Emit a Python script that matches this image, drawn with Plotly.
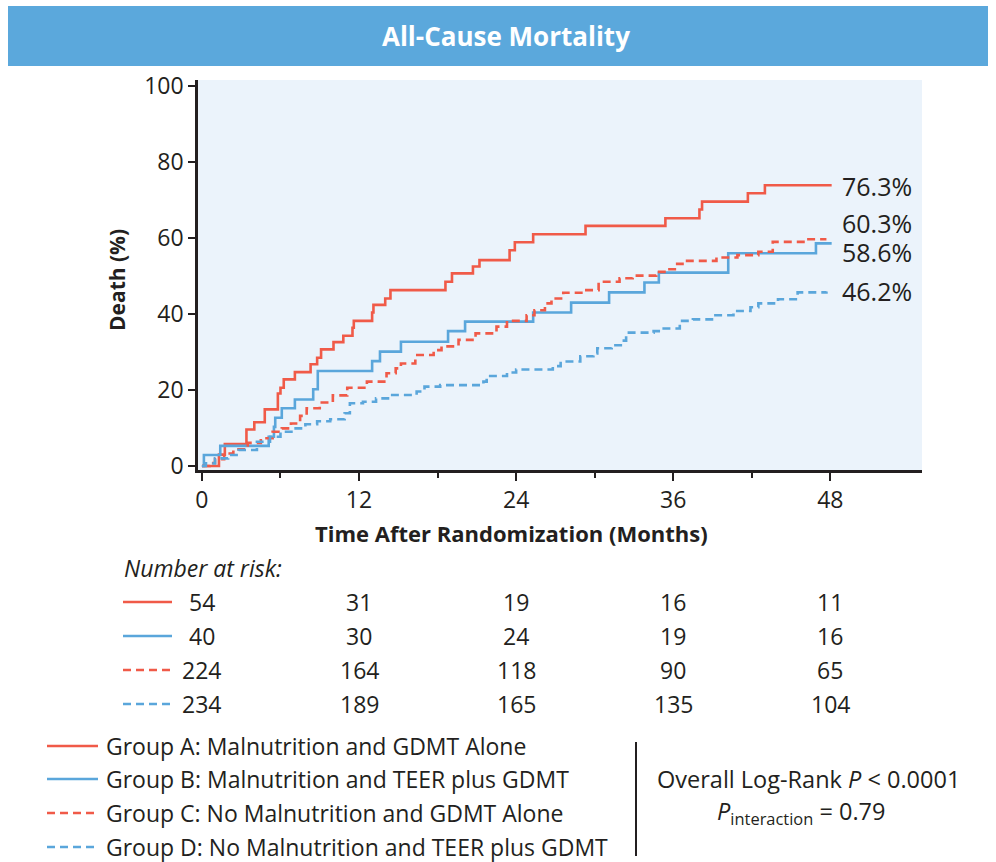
import plotly.graph_objects as go

# ---------------- data ----------------
months_ticks = [0, 12, 24, 36, 48]

groupA_t = [0, 1.3, 1.75, 3.4, 4.0, 4.8, 5.8, 6.0, 6.25, 7.1, 8.3, 8.8, 9.1, 10.05, 10.8, 11.5, 11.6,
            13.0, 13.1, 14.0, 14.4, 18.6, 19.1, 20.7, 21.2, 23.5, 23.9, 25.3, 29.3, 35.4, 38.0, 38.2,
            41.7, 43.0, 48.1]
groupA_v = [0, 3.0, 5.8, 9.6, 11.5, 14.9, 19.1, 20.6, 22.8, 24.7, 26.8, 28.5, 30.7, 32.6, 34.3, 36.4, 38.2,
            40.4, 42.4, 44.1, 46.3, 48.5, 50.7, 52.5, 54.2, 56.8, 58.9, 61.0, 63.2, 65.2, 67.5, 69.6,
            71.8, 73.9, 73.9]

groupB_t = [0, 0.15, 1.4, 5.1, 5.5, 5.6, 6.1, 7.1, 8.5, 8.85, 13.0, 13.6, 15.2, 18.8, 20.1, 25.3, 28.2,
            31.1, 33.8, 34.9, 40.2, 46.9, 48.1]
groupB_v = [0, 2.9, 5.3, 7.7, 10.3, 12.7, 15.2, 17.5, 20.2, 25.0, 27.6, 30.1, 32.7, 35.5, 38.0, 40.4, 43.0,
            45.7, 48.3, 50.9, 56.0, 58.6, 58.6]

groupC_t = [0, 0.6, 1.0, 1.7, 2.4, 3.5, 4.5, 5.4, 6.1, 6.8, 7.5, 8.0, 9.0, 10.0, 11.1, 12.6, 14.1, 14.8,
            15.2, 16.3, 17.7, 18.3, 19.6, 20.9, 22.5, 23.3, 24.8, 25.4, 26.2, 26.7, 27.6, 29.1, 30.3,
            31.9, 32.9, 34.7, 35.5, 36.3, 36.9, 39.3, 40.9, 42.5, 43.6, 46.2, 47.7]
groupC_v = [0, 0.8, 1.8, 3.3, 4.4, 6.1, 7.3, 9.0, 9.9, 11.2, 13.2, 15.2, 16.7, 18.6, 20.6, 22.2, 24.4, 25.7,
            27.0, 29.2, 30.5, 31.5, 33.2, 34.9, 36.7, 38.2, 39.7, 41.0, 42.8, 44.1, 45.6, 46.3, 48.5,
            49.4, 50.1, 51.1, 51.8, 53.2, 54.0, 54.9, 55.5, 56.4, 59.0, 59.7, 59.7]

groupD_t = [0, 0.3, 1.0, 2.0, 2.8, 4.2, 5.2, 6.0, 7.0, 7.9, 8.8, 9.8, 10.9, 11.3, 12.3, 13.3, 14.4, 16.4,
            17.0, 18.2, 21.5, 21.75, 23.3, 24.0, 26.8, 27.4, 28.9, 29.9, 30.2, 31.3, 32.1, 32.4, 34.5,
            35.0, 36.5, 37.5, 39.1, 40.6, 41.9, 42.5, 44.0, 45.5, 47.7]
groupD_v = [0, 0.7, 2.0, 2.9, 4.2, 6.4, 7.7, 9.0, 9.9, 11.0, 11.8, 12.3, 13.9, 16.5, 16.9, 17.8, 18.7, 19.6,
            20.9, 21.3, 22.2, 23.7, 24.6, 25.4, 26.3, 27.5, 28.9, 29.6, 31.0, 31.8, 33.0, 35.1, 35.5,
            36.2, 38.2, 38.6, 39.7, 40.8, 41.8, 42.8, 43.9, 45.7, 45.9]

group_names = ["Group A: Malnutrition and GDMT Alone",
               "Group B: Malnutrition and TEER plus GDMT",
               "Group C: No Malnutrition and GDMT Alone",
               "Group D: No Malnutrition and TEER plus GDMT"]
end_labels = ["76.3%", "58.6%", "60.3%", "46.2%"]
end_label_y = [73.7, 56.4, 63.9, 46.1]

at_risk_A = [54, 31, 19, 16, 11]
at_risk_B = [40, 30, 24, 19, 16]
at_risk_C = [224, 164, 118, 90, 65]
at_risk_D = [234, 189, 165, 135, 104]

# ---------------- style ----------------
RED = "#F05A48"
BLUE = "#5AA6DB"
BANNER = "#5BA8DC"
BG = "#EBF3FB"
INK = "#231F20"
FONT = "Open Sans"
DASH = "8px,5px"

W, H = 996, 862
L, R, T, B = 198, 922, 80, 470  # plot area in pixels


def px2x(px):
    return (px - L) / (R - L)


def py2y(py):
    return (B - py) / (B - T)


def note(text, px, py, size, color=INK, xanchor="center", **kw):
    return dict(text=text, xref="paper", yref="paper", x=px2x(px), y=py2y(py),
                xanchor=xanchor, yanchor="middle", showarrow=False,
                font=dict(family=FONT, size=size, color=color), **kw)


groups = [
    (groupA_t, groupA_v, RED, "solid", at_risk_A),
    (groupB_t, groupB_v, BLUE, "solid", at_risk_B),
    (groupC_t, groupC_v, RED, DASH, at_risk_C),
    (groupD_t, groupD_v, BLUE, DASH, at_risk_D),
]

fig = go.Figure()
for (t, v, c, d, _), name in zip(groups, group_names):
    fig.add_trace(go.Scatter(x=t, y=v, mode="lines", name=name,
                             line=dict(color=c, width=2.6, dash=d, shape="hv"),
                             showlegend=False, hoverinfo="skip"))

annotations = []
shapes = []

# title banner
shapes.append(dict(type="rect", xref="paper", yref="paper",
                   x0=px2x(8), x1=px2x(988), y0=py2y(66), y1=py2y(6),
                   fillcolor=BANNER, line=dict(width=0), layer="below"))
annotations.append(note("<b>All-Cause Mortality</b>", 506, 36, 26, color="white"))

# axis titles
annotations.append(note("<b>Time After Randomization (Months)</b>", 511, 533, 22))
annotations.append(note("<b>Death (%)</b>", 117, 280, 21, textangle=-90))

# end labels
for lab, yv in zip(end_labels, end_label_y):
    annotations.append(dict(text=lab, xref="x", yref="y", x=48.7, y=yv, xanchor="left",
                            yanchor="middle", showarrow=False,
                            font=dict(family=FONT, size=25, color=INK)))

# number at risk
annotations.append(note("<i>Number at risk:</i>", 122, 568, 23, xanchor="left"))
row_y = [602, 636, 670, 704]
for (t, v, c, d, risk), ry in zip(groups, row_y):
    shapes.append(dict(type="line", xref="paper", yref="paper",
                       x0=px2x(123), x1=px2x(172), y0=py2y(ry), y1=py2y(ry),
                       line=dict(color=c, width=2.6, dash=d)))
    for m, n in zip(months_ticks, risk):
        annotations.append(dict(text=str(n), xref="x", yref="paper", x=m, y=py2y(ry),
                                xanchor="center", yanchor="middle", showarrow=False,
                                font=dict(family=FONT, size=23, color=INK)))

# legend (bottom)
leg_y = [746, 779, 813, 847]
for (t, v, c, d, _), name, ly in zip(groups, group_names, leg_y):
    shapes.append(dict(type="line", xref="paper", yref="paper",
                       x0=px2x(47), x1=px2x(98), y0=py2y(ly), y1=py2y(ly),
                       line=dict(color=c, width=2.6, dash=d)))
    annotations.append(note(name, 104, ly, 23, xanchor="left"))

# separator + stats
shapes.append(dict(type="line", xref="paper", yref="paper",
                   x0=px2x(636), x1=px2x(636), y0=py2y(742), y1=py2y(856),
                   line=dict(color=INK, width=2)))
annotations.append(note("Overall Log-Rank <i>P</i> &lt; 0.0001", 808, 779, 23.5))
annotations.append(note("<i>P</i><sub>interaction</sub> = 0.79", 801, 812, 23.5))

fig.update_layout(
    width=W, height=H,
    margin=dict(l=L, r=W - R, t=T, b=H - B, pad=0),
    paper_bgcolor="white", plot_bgcolor=BG,
    shapes=shapes, annotations=annotations,
    showlegend=False,
    xaxis=dict(range=[-0.3, 55], tickmode="array", tickvals=months_ticks,
               ticktext=[str(m) for m in months_ticks],
               showgrid=False, zeroline=False, showline=True, linecolor=INK, linewidth=2.5,
               ticks="outside", ticklen=8, tickwidth=2, tickcolor=INK,
               minor=dict(tickvals=[6, 18, 30, 42], ticks="outside", ticklen=5, tickwidth=2, tickcolor=INK),
               tickfont=dict(family=FONT, size=23, color=INK)),
    yaxis=dict(range=[-1.05, 101.6], tickmode="array", tickvals=[0, 20, 40, 60, 80, 100],
               showgrid=False, zeroline=False, showline=True, linecolor=INK, linewidth=2.5,
               ticks="outside", ticklen=7, tickwidth=2, tickcolor=INK,
               tickfont=dict(family=FONT, size=23, color=INK)),
)

fig.write_html("out.html", config={"displayModeBar": False},
               post_script="document.body.style.margin='0';document.body.style.padding='0';")
